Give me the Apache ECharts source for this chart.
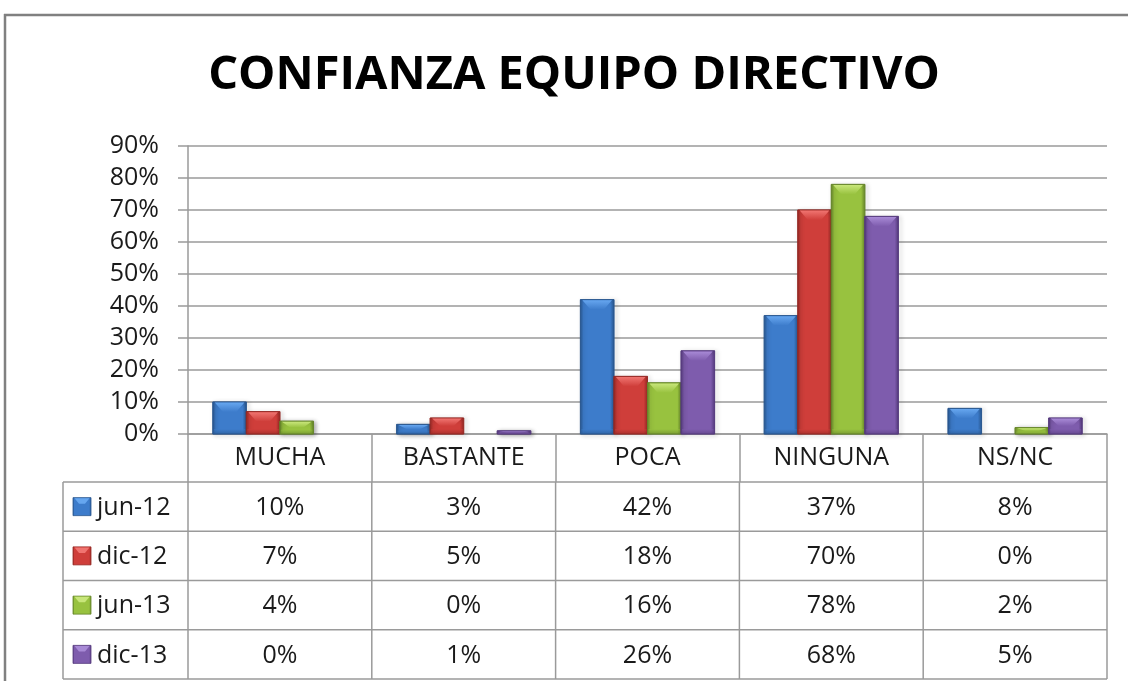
<!DOCTYPE html>
<html><head><meta charset="utf-8">
<script src="https://cdn.jsdelivr.net/npm/echarts@6/dist/echarts.min.js"></script>
<style>html,body{margin:0;padding:0;background:#fff}#c{width:1128px;height:681px}</style>
</head><body><div id="c"></div>
<script>
// ---- data ----
const chartTitle = 'CONFIANZA EQUIPO DIRECTIVO';
const categories = ['MUCHA', 'BASTANTE', 'POCA', 'NINGUNA', 'NS/NC'];
const seriesNames = ['jun-12', 'dic-12', 'jun-13', 'dic-13'];
const jun12 = [10, 3, 42, 37, 8];
const dic12 = [7, 5, 18, 70, 0];
const jun13 = [4, 0, 16, 78, 2];
const dic13 = [0, 1, 26, 68, 5];
const yMax = 90, yStep = 10;

const seriesValues = [jun12, dic12, jun13, dic13];

// ---- style ----
const FONT = '"Open Sans", "Noto Sans", sans-serif';
const palette = [
  {mid: '#3d7ccb', dark: '#28578f', top: '#66a6ef'},
  {mid: '#cf3e3a', dark: '#962824', top: '#f07470'},
  {mid: '#98c23f', dark: '#66852a', top: '#c8e67a'},
  {mid: '#7e5cad', dark: '#553a7e', top: '#a88ad6'}
];
const LINE = '#9a9a9a';
const GAP = 0.27;

function bodyFill(c) {
  return new echarts.graphic.LinearGradient(0, 0, 1, 0, [
    {offset: 0, color: c.dark}, {offset: 0.1, color: c.mid},
    {offset: 0.88, color: c.mid}, {offset: 1, color: c.dark}
  ]);
}

function renderBar(params, api) {
  const si = params.seriesIndex;
  const v = api.value(1);
  if (!v) return;
  const cat = api.value(0);
  const band = api.size([1, 0])[0];
  const group = band * (1 - GAP);
  const bw = group / seriesValues.length;
  const p = api.coord([cat, v]);
  const b0 = api.coord([cat, 0]);
  const x0 = p[0] - group / 2 + si * bw;
  const top = p[1], bottom = b0[1], h = bottom - top;
  const bv = Math.min(10, h / 2);
  const c = palette[si];
  const inset = bw * 0.3;
  return {
    type: 'group',
    children: [
      {type: 'rect', shape: {x: x0, y: top, width: bw, height: h},
       style: {fill: bodyFill(c), stroke: c.dark, lineWidth: 0.8,
               shadowBlur: 4, shadowColor: 'rgba(0,0,0,0.35)', shadowOffsetX: 2, shadowOffsetY: 1}},
      {type: 'polygon', shape: {points: [[x0 + 2, top + 0.6], [x0 + bw - 2, top + 0.6], [x0 + bw - inset, top + bv], [x0 + inset, top + bv]]},
       style: {fill: new echarts.graphic.LinearGradient(0, 0, 0, 1, [{offset: 0, color: c.top}, {offset: 1, color: c.mid}])}},
      {type: 'rect', shape: {x: x0 + 1, y: bottom - Math.min(5, h / 3), width: bw - 2, height: Math.min(5, h / 3)},
       style: {fill: new echarts.graphic.LinearGradient(0, 0, 0, 1, [{offset: 0, color: c.mid}, {offset: 1, color: c.dark}]), opacity: 0.5}}
    ]
  };
}

const chart = echarts.init(document.getElementById('c'), null, {renderer: 'canvas'});

const option = {
  backgroundColor: '#fff',
  animation: false,
  grid: {left: 188, right: 21, top: 146, bottom: 247, containLabel: false},
  xAxis: {
    type: 'category', data: categories, boundaryGap: true,
    axisLine: {lineStyle: {color: LINE, width: 1.5}},
    axisTick: {show: true, interval: 0, length: 48, lineStyle: {color: LINE, width: 1.5}},
    axisLabel: {interval: 0, fontFamily: FONT, fontSize: 25, color: '#1a1a1a', margin: 24, verticalAlign: 'middle'},
    splitLine: {show: false}
  },
  yAxis: {
    type: 'value', min: 0, max: yMax, interval: yStep,
    axisLine: {show: true, lineStyle: {color: LINE, width: 1.5}},
    axisTick: {show: true, length: 10, lineStyle: {color: LINE, width: 1.5}},
    axisLabel: {formatter: '{value}%', fontFamily: FONT, fontSize: 25, color: '#1a1a1a', margin: 29},
    splitLine: {show: true, lineStyle: {color: LINE, width: 1.5}}
  },
  series: seriesNames.map((name, si) => ({
    type: 'custom', name: name,
    renderItem: renderBar,
    encode: {x: 0, y: 1},
    data: seriesValues[si].map((v, i) => [i, v]),
    z: 3
  }))
};
chart.setOption(option);

// ---- data table, positioned from the chart's own axes ----
const centers = categories.map((_, i) => chart.convertToPixel({xAxisIndex: 0}, i));
const band = centers.length > 1 ? centers[1] - centers[0] : 100;
const leftX = centers[0] - band / 2;
const rightX = centers[centers.length - 1] + band / 2;
const axisY = chart.convertToPixel({yAxisIndex: 0}, 0);
const headerH = 48, rowH = 49.25;
const tableTop = axisY + headerH;
const tableLeft = 63;
const nRows = seriesNames.length;
const tableBottom = tableTop + nRows * rowH;

const g = [];
const lineStyle = {stroke: LINE, lineWidth: 1.5};
// frame (top and left edges visible)
g.push({type: 'line', shape: {x1: 4, y1: 15, x2: 1140, y2: 15}, style: {stroke: '#808080', lineWidth: 2.5}, z: 0});
g.push({type: 'line', shape: {x1: 5, y1: 14, x2: 5, y2: 690}, style: {stroke: '#808080', lineWidth: 2.5}, z: 0});
// title
g.push({type: 'text', x: 574, y: 76, style: {text: chartTitle, font: 'bold 47px ' + FONT, fill: '#000', align: 'center', verticalAlign: 'middle'}, z: 10});
// horizontal lines
for (let r = 0; r <= nRows; r++) {
  const y = tableTop + r * rowH;
  g.push({type: 'line', shape: {x1: tableLeft, y1: y, x2: rightX, y2: y}, style: lineStyle, z: 5});
}
// vertical lines
const vx = [tableLeft, leftX].concat(centers.map(c => c + band / 2));
vx.forEach(x => g.push({type: 'line', shape: {x1: x, y1: tableTop, x2: x, y2: tableBottom}, style: lineStyle, z: 5}));
// rows
seriesNames.forEach((name, si) => {
  const cy = tableTop + si * rowH + rowH / 2;
  const c = palette[si];
  g.push({type: 'rect', shape: {x: 73, y: cy - 9, width: 18, height: 18},
          style: {fill: bodyFill(c), stroke: c.dark, lineWidth: 0.8}, z: 6});
  g.push({type: 'polygon', shape: {points: [[74.5, cy - 8.4], [89.5, cy - 8.4], [85, cy - 3], [79, cy - 3]]},
          style: {fill: c.top}, z: 7});
  g.push({type: 'text', x: 97, y: cy + 1, style: {text: name, font: '25px ' + FONT, fill: '#1a1a1a', align: 'left', verticalAlign: 'middle'}, z: 6});
  seriesValues[si].forEach((v, i) => {
    g.push({type: 'text', x: centers[i], y: cy + 1, style: {text: v + '%', font: '25px ' + FONT, fill: '#1a1a1a', align: 'center', verticalAlign: 'middle'}, z: 6});
  });
});
chart.setOption({graphic: g});
</script>
</body></html>
